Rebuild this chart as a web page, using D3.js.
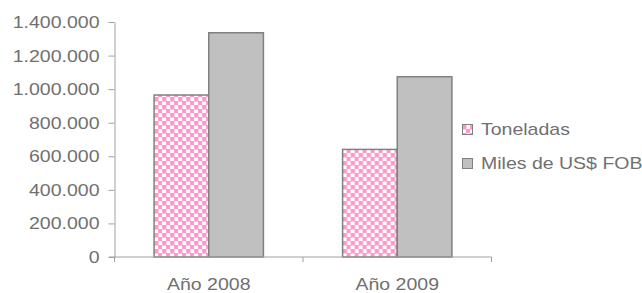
<!DOCTYPE html>
<html>
<head>
<meta charset="utf-8">
<script src="https://cdn.jsdelivr.net/npm/d3@7"></script>
<style>
  body { margin: 0; background: #fff; }
  svg text { font-family: "Liberation Sans", Arial, sans-serif; font-size: 16px; fill: #707070; }
</style>
</head>
<body>
<div id="chart"></div>
<script>
// data
var categories = ["Año 2008", "Año 2009"];
var series = ["Toneladas", "Miles de US$ FOB"];
var toneladas = [965000, 641000];
var milesFob = [1336000, 1074000];
var yTicks = [0, 200000, 400000, 600000, 800000, 1000000, 1200000, 1400000];

var W = 642, H = 293;
var sx = 1.22; // the original picture is stretched sideways

var svg = d3.select("#chart").append("svg").attr("width", W).attr("height", H);

// checker fill for the first series
var defs = svg.append("defs");
var pat = defs.append("pattern").attr("id", "checker")
	.attr("patternUnits", "userSpaceOnUse")
	.attr("width", 8).attr("height", 8)
	.attr("x", 0).attr("y", 1);
pat.append("rect").attr("width", 8).attr("height", 8).attr("fill", "#fff");
pat.append("rect").attr("width", 4.5).attr("height", 4.5).attr("fill", "#ff99cc");
pat.append("rect").attr("x", 4).attr("y", 4).attr("width", 4.5).attr("height", 4.5).attr("fill", "#ff99cc");

var fills = ["url(#checker)", "#c0c0c0"];

var x0 = d3.scaleBand().domain(categories).range([114.5, 491.5]).paddingInner(0.42).paddingOuter(0.21);
var x1 = d3.scaleBand().domain(series).range([0, x0.bandwidth()]);
var y = d3.scaleLinear().domain([0, 1400000]).range([257, 22]);

var loc = d3.formatLocale({decimal: ",", thousands: ".", grouping: [3], currency: ["$", ""]});
var fmt = loc.format(",d");

var axisColor = "#a0a0a0";

// y axis
var gy = svg.append("g").attr("transform", "translate(114.5,0)")
	.call(d3.axisLeft(y).tickValues(yTicks).tickFormat(fmt).tickSize(6).tickSizeOuter(0));
gy.select(".domain").attr("stroke", axisColor);
gy.selectAll(".tick line").attr("stroke", axisColor);
gy.selectAll(".tick text")
	.attr("x", null).attr("dy", "0.34em")
	.attr("transform", "translate(-15,0) scale(" + sx + ",1)")
	.style("font-size", "16px").style("font-family", null).attr("fill", "#707070");

// bars
var data = categories.map(function(c, i){
	return {cat: c, vals: [{s: series[0], v: toneladas[i]}, {s: series[1], v: milesFob[i]}]};
});

var groups = svg.selectAll("g.grp").data(data).enter().append("g")
	.attr("class", "grp")
	.attr("transform", function(d){ return "translate(" + x0(d.cat) + ",0)"; });

groups.selectAll("rect").data(function(d){ return d.vals; }).enter().append("rect")
	.attr("x", function(d){ return x1(d.s); })
	.attr("y", function(d){ return y(d.v); })
	.attr("width", x1.bandwidth())
	.attr("height", function(d){ return y(0) - y(d.v); })
	.attr("fill", function(d, i){ return fills[i]; })
	.attr("stroke", "#808080")
	.attr("stroke-width", 1.5);

// x axis
var gx = svg.append("g").attr("transform", "translate(0,257)");
gx.append("line").attr("x1", 109).attr("x2", x0.range()[1]).attr("stroke", axisColor);
var bounds = [x0.range()[0]].concat(categories.map(function(c){ return x0(c) - x0.step() * x0.paddingInner() / 2 + x0.step(); }));
gx.selectAll("line.tk").data(bounds).enter().append("line").attr("class", "tk")
	.attr("x1", function(d){ return d; }).attr("x2", function(d){ return d; })
	.attr("y1", 0).attr("y2", 5).attr("stroke", axisColor);
gx.selectAll("text").data(categories).enter().append("text")
	.attr("text-anchor", "middle")
	.attr("transform", function(d){ return "translate(" + (x0(d) + x0.bandwidth() / 2) + ",33) scale(" + sx + ",1)"; })
	.text(function(d){ return d; });

// legend
var leg = svg.append("g").attr("transform", "translate(462,124)");
var items = leg.selectAll("g").data(series).enter().append("g")
	.attr("transform", function(d, i){ return "translate(0," + (i * 34) + ")"; });
items.append("rect").attr("x", 0.5).attr("y", 0.5).attr("width", 10).attr("height", 10)
	.attr("fill", function(d, i){ return fills[i]; })
	.attr("stroke", "#808080").attr("stroke-width", 1);
items.append("text")
	.attr("transform", "translate(19,11) scale(" + sx + ",1)")
	.text(function(d){ return d; });
</script>
</body>
</html>
